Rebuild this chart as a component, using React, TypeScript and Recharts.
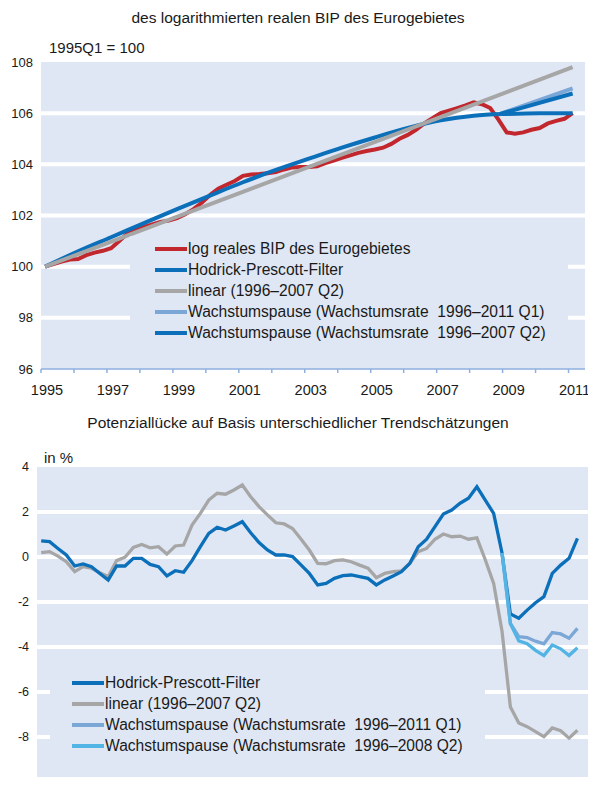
import React from 'react';
import { LineChart, Line, XAxis, YAxis, CartesianGrid } from 'recharts';

const FONT = '"Liberation Sans", Arial, sans-serif';
const BG = '#e0e7f4';
const AXIS = '#8eb0df';
const TEXT = '#1a1a1a';

const RED = '#c1272d';
const BLUE = '#0b6fba';
const GRAY = '#a6a6a6';
const LIGHT = '#7ba7d7';
const CYAN = '#52b4e4';

// x axis: years, labels on odd years
const years = [1995, 1996, 1997, 1998, 1999, 2000, 2001, 2002, 2003, 2004, 2005, 2006, 2007, 2008, 2009, 2010, 2011];
const yearLabels = ['1995', '1997', '1999', '2001', '2003', '2005', '2007', '2009', '2011'];

// chart 1: log real GDP, 1995Q1 = 100 (quarterly 1995Q1 - 2011Q1)
const bipTicks = [96, 98, 100, 102, 104, 106, 108];
const bipGrid = [98, 100, 102, 104, 106];
const logBip = [
  100.0, 100.1, 100.2, 100.28,
  100.3, 100.45, 100.55, 100.62,
  100.72, 101.0, 101.3, 101.45,
  101.55, 101.65, 101.75, 101.8,
  101.9, 102.05, 102.25, 102.5,
  102.8, 103.05, 103.2, 103.35,
  103.55, 103.6, 103.62, 103.65,
  103.7, 103.8, 103.88, 103.9,
  103.9, 103.92, 104.05, 104.15,
  104.25, 104.35, 104.45, 104.52,
  104.58, 104.65, 104.8, 105.0,
  105.15, 105.35, 105.6, 105.8,
  106.0, 106.1, 106.2, 106.3,
  106.42, 106.35, 106.2, 105.75,
  105.25, 105.2, 105.25, 105.35,
  105.42, 105.6, 105.7, 105.78,
  106.0,
];
// HP trend, one value per year (Q1)
const hpLevel = [100.0, 100.6, 101.15, 101.7, 102.25, 102.78, 103.3, 103.78, 104.22, 104.65, 105.05, 105.42, 105.72, 105.9, 105.97, 106.0, 106.0];
// linear trend, 1995Q1 and 2011Q1
const linearLevel = [100.0, 107.8];
// growth pause, 2008Q4 and 2011Q1
const pause2011Level = [105.95, 106.97];
const pause2007Level = [105.95, 106.77];

// chart 2: output gap in % (quarterly 1995Q1 - 2011Q1)
const gapTicks = [-10, -8, -6, -4, -2, 0, 2, 4];
const gapGrid = [-8, -6, -4, -2, 0, 2];
const hpGap = [
  0.72, 0.68, 0.38, 0.09,
  -0.4, -0.31, -0.43, -0.73,
  -1.02, -0.4, -0.4, -0.06,
  -0.06, -0.33, -0.43, -0.84,
  -0.61, -0.68, -0.16, 0.46,
  1.05, 1.32, 1.2, 1.38,
  1.57, 1.08, 0.64, 0.31,
  0.09, 0.09, 0.02, -0.35,
  -0.73, -1.24, -1.17, -0.95,
  -0.83, -0.8, -0.87, -0.95,
  -1.24, -1.02, -0.84, -0.65,
  -0.28, 0.46, 0.79, 1.35,
  1.91, 2.09, 2.39, 2.61,
  3.12, 2.53, 1.94, 0.18,
  -2.53, -2.72, -2.36, -2.03,
  -1.76, -0.73, -0.36, -0.06,
  0.83,
];
const linearGap = [
  0.19, 0.24, 0.04, -0.21,
  -0.65, -0.43, -0.5, -0.7,
  -0.87, -0.16, -0.01, 0.43,
  0.56, 0.41, 0.46, 0.13,
  0.49, 0.53, 1.42, 1.94,
  2.53, 2.83, 2.79, 2.98,
  3.2, 2.68, 2.24, 1.87,
  1.52, 1.47, 1.27, 0.8,
  0.31, -0.28, -0.3, -0.16,
  -0.13, -0.21, -0.36, -0.5,
  -0.92, -0.73, -0.65, -0.62,
  -0.28, 0.24, 0.38, 0.79,
  1.02, 0.9, 0.93, 0.79,
  0.85, -0.12, -1.17, -3.3,
  -6.67, -7.38, -7.54, -7.76,
  -7.98, -7.6, -7.72, -8.05,
  -7.7,
];
// growth pause series, 2008Q4 - 2011Q1
const pause2011Gap = [0.18, -2.95, -3.54, -3.58, -3.74, -3.86, -3.36, -3.42, -3.61, -3.17];
const pause2008Gap = [0.18, -2.97, -3.73, -3.85, -4.15, -4.38, -3.91, -4.08, -4.38, -4.03];

const Q4_2008 = 55;

// quarter index -> position on the time axis (middle of the quarter)
const toRows = (start: number, values: number[], step = 1) =>
  values.map((v, i) => ({ t: 1995 + (start + i * step) / 4 + 0.125, v }));

const legendTop = [
  { label: 'log reales BIP des Eurogebietes', color: RED },
  { label: 'Hodrick-Prescott-Filter', color: BLUE },
  { label: 'linear (1996–2007 Q2)', color: GRAY },
  { label: 'Wachstumspause (Wachstumsrate  1996–2011 Q1)', color: LIGHT },
  { label: 'Wachstumspause (Wachstumsrate  1996–2007 Q2)', color: BLUE },
];
const legendBottom = [
  { label: 'Hodrick-Prescott-Filter', color: BLUE },
  { label: 'linear (1996–2007 Q2)', color: GRAY },
  { label: 'Wachstumspause (Wachstumsrate  1996–2011 Q1)', color: LIGHT },
  { label: 'Wachstumspause (Wachstumsrate  1996–2008 Q2)', color: CYAN },
];

const YearTick = (props: any) => {
  const { x, y, payload } = props;
  const label = String(payload.value);
  if (!yearLabels.includes(label)) return null;
  return (
    <text x={x + 6} y={y + 20} textAnchor="middle" fontSize={14.5} fontFamily={FONT} fill={TEXT}>
      {label}
    </text>
  );
};

const Legend = ({ items, left, top, width, height, padLeft }: any) => (
  <div
    style={{
      position: 'absolute', left, top, width, height, background: BG,
      fontFamily: FONT, fontSize: 15.6, color: TEXT, paddingTop: 2, boxSizing: 'border-box',
    }}
  >
    {items.map((it: any) => (
      <div key={it.label} style={{ display: 'flex', alignItems: 'center', height: 21.2, paddingLeft: padLeft, whiteSpace: 'pre' }}>
        <span style={{ display: 'inline-block', width: 32, height: 4, background: it.color }} />
        <span style={{ marginLeft: 1 }}>{it.label}</span>
      </div>
    ))}
  </div>
);

const titleStyle: React.CSSProperties = {
  position: 'absolute', left: 0, width: 596, top: 9, textAlign: 'center',
  fontFamily: FONT, fontSize: 15.5, lineHeight: '18px', color: TEXT,
};
const noteStyle: React.CSSProperties = {
  position: 'absolute', fontFamily: FONT, fontSize: 15, lineHeight: '18px', color: TEXT,
};

const App = () => (
  <div style={{ margin: -8, width: 596, height: 785, position: 'relative', background: '#fff', overflow: 'hidden' }}>
    {/* upper chart */}
    <div style={{ position: 'relative', width: 596, height: 405 }}>
      <div style={titleStyle}>des logarithmierten realen BIP des Eurogebietes</div>
      <div style={{ ...noteStyle, left: 49, top: 39 }}>1995Q1 = 100</div>
      <LineChart width={596} height={405} margin={{ top: 62, right: 11, bottom: 6, left: 0 }}>
        <CartesianGrid vertical={false} horizontalValues={bipGrid} stroke="#fff" strokeWidth={4} fill={BG} fillOpacity={1} />
        <XAxis
          type="number" dataKey="t" domain={[1995, 2011.5]} ticks={years} interval={0}
          allowDataOverflow stroke={AXIS} strokeWidth={1.5} tickSize={4} tick={<YearTick />} height={30}
        />
        <YAxis
          type="number" domain={[96, 108]} ticks={bipTicks} width={41} axisLine={false} tickLine={false}
          tick={{ fontSize: 13, fill: TEXT, fontFamily: FONT }}
        />
        <Line data={toRows(0, logBip)} dataKey="v" stroke={RED} strokeWidth={4} dot={false} isAnimationActive={false} />
        <Line data={toRows(0, hpLevel, 4)} dataKey="v" type="monotone" stroke={BLUE} strokeWidth={4} dot={false} isAnimationActive={false} />
        <Line data={toRows(0, linearLevel, 64)} dataKey="v" stroke={GRAY} strokeWidth={4} dot={false} isAnimationActive={false} />
        <Line data={toRows(Q4_2008, pause2011Level, 9)} dataKey="v" stroke={LIGHT} strokeWidth={4} dot={false} isAnimationActive={false} />
        <Line data={toRows(Q4_2008, pause2007Level, 9)} dataKey="v" stroke={BLUE} strokeWidth={4} dot={false} isAnimationActive={false} />
      </LineChart>
      <Legend items={legendTop} left={130} top={236} width={438} height={108} padLeft={25} />
    </div>

    {/* lower chart */}
    <div style={{ position: 'relative', width: 596, height: 380 }}>
      <div style={titleStyle}>Potenziallücke auf Basis unterschiedlicher Trendschätzungen</div>
      <div style={{ ...noteStyle, left: 44, top: 44 }}>in %</div>
      <LineChart width={596} height={380} margin={{ top: 62, right: 6, bottom: 0, left: 0 }}>
        <CartesianGrid vertical={false} horizontalValues={gapGrid} stroke="#fff" strokeWidth={4} fill={BG} fillOpacity={1} />
        <XAxis
          type="number" dataKey="t" domain={[1995, 2011.5]} ticks={years} interval={0}
          allowDataOverflow stroke={AXIS} strokeWidth={1.5} tickSize={4} tick={false} height={3}
        />
        <YAxis
          type="number" domain={[-10, 4]} ticks={gapTicks} width={37} axisLine={false} tickLine={false}
          tick={{ fontSize: 12.5, fill: TEXT, fontFamily: FONT }}
        />
        <Line data={toRows(0, linearGap)} dataKey="v" stroke={GRAY} strokeWidth={3.3} dot={false} isAnimationActive={false} />
        <Line data={toRows(0, hpGap)} dataKey="v" stroke={BLUE} strokeWidth={3.3} dot={false} isAnimationActive={false} />
        <Line data={toRows(Q4_2008, pause2011Gap)} dataKey="v" stroke={LIGHT} strokeWidth={3.3} dot={false} isAnimationActive={false} />
        <Line data={toRows(Q4_2008, pause2008Gap)} dataKey="v" stroke={CYAN} strokeWidth={3.3} dot={false} isAnimationActive={false} />
      </LineChart>
      <Legend items={legendBottom} left={50} top={265} width={435} height={90} padLeft={22} />
    </div>
  </div>
);

export default App;
